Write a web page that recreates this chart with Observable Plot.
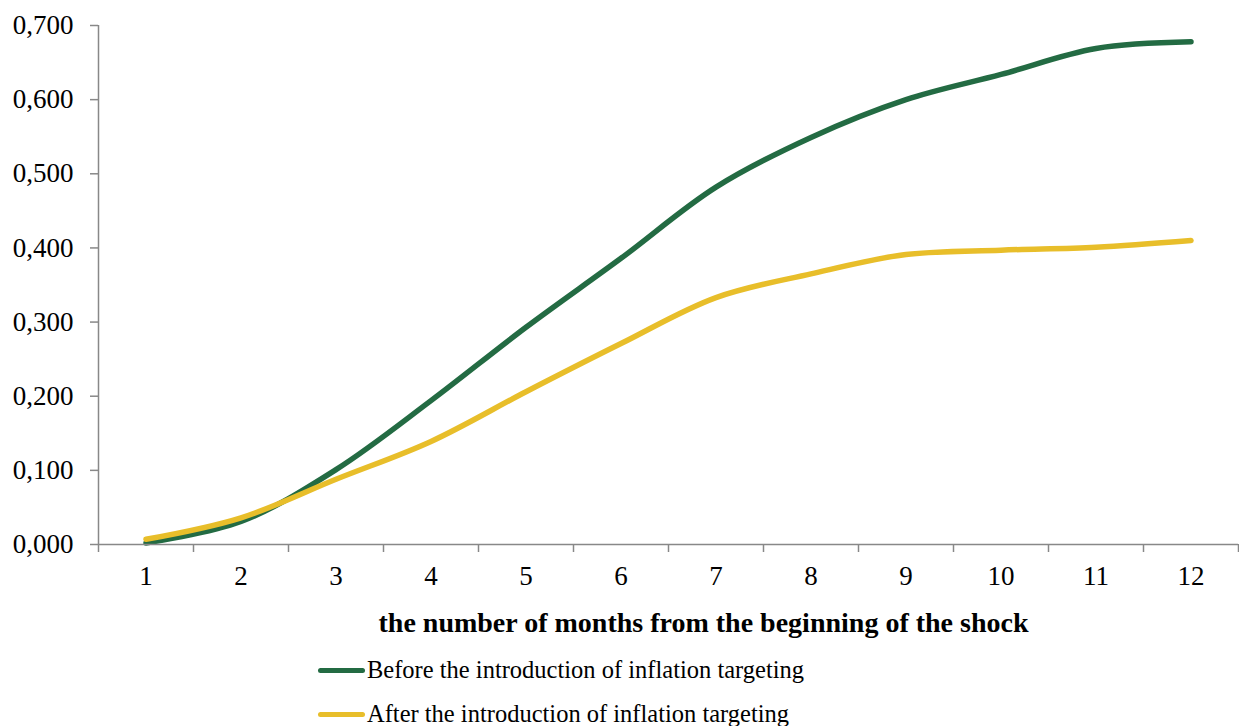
<!DOCTYPE html>
<html>
<head>
<meta charset="utf-8">
<script src="https://cdn.jsdelivr.net/npm/d3@7"></script>
<script src="https://cdn.jsdelivr.net/npm/@observablehq/plot@0.6"></script>
<style>
  body { margin: 0; background: #fff; font-family: "Liberation Serif", "Times New Roman", serif; }
  svg { display: block; }
  #legend { margin-left: 318px; margin-top: 3px; }
  .item { display: flex; align-items: center; height: 44px; font-size: 24.5px; color: #000; }
  .swatch { width: 47px; height: 5px; border-radius: 3px; margin-right: 2px; }
</style>
</head>
<body>
<div id="chart"></div>
<script>
const months = [1, 2, 3, 4, 5, 6, 7, 8, 9, 10, 11, 12];
const before = [0.002, 0.031, 0.101, 0.194, 0.293, 0.386, 0.482, 0.549, 0.600, 0.634, 0.669, 0.678];
const after  = [0.007, 0.036, 0.088, 0.139, 0.206, 0.271, 0.333, 0.365, 0.391, 0.397, 0.401, 0.410];
const seriesNames = ["Before the introduction of inflation targeting", "After the introduction of inflation targeting"];
const seriesColors = ["#236B43", "#E8BE2A"];
const yTicks = [0, 0.1, 0.2, 0.3, 0.4, 0.5, 0.6, 0.7];
const xBoundaries = [0.5, 1.5, 2.5, 3.5, 4.5, 5.5, 6.5, 7.5, 8.5, 9.5, 10.5, 11.5, 12.5];
const xTitle = "the number of months from the beginning of the shock";

const data = [];
months.forEach((m, i) => data.push({month: m, value: before[i], series: seriesNames[0]}));
months.forEach((m, i) => data.push({month: m, value: after[i], series: seriesNames[1]}));

const chart = Plot.plot({
  width: 1239,
  height: 645,
  marginTop: 25,
  marginBottom: 101,
  marginLeft: 98,
  marginRight: 1,
  style: {fontFamily: "'Liberation Serif', 'Times New Roman', serif", fontSize: "27px", color: "#000", background: "#fff"},
  x: {domain: [0.5, 12.5]},
  y: {domain: [0, 0.7]},
  color: {domain: seriesNames, range: seriesColors},
  marks: [
    Plot.line(data, {x: "month", y: "value", z: "series", stroke: "series", strokeWidth: 5.5, curve: "catmull-rom", strokeLinecap: "round"}),
    Plot.ruleY([0], {stroke: "#888", strokeWidth: 1.5}),
    Plot.ruleX([0.5], {stroke: "#888", strokeWidth: 1.5}),
    Plot.axisY({ticks: yTicks, tickSize: 8, tickPadding: 17, tickFormat: d => d.toFixed(3).replace(".", ","), stroke: "#888", strokeWidth: 1.5, label: null, fill: "#000"}),
    Plot.axisX({ticks: xBoundaries, tickSize: 8, tickFormat: () => "", stroke: "#888", strokeWidth: 1.5, label: null}),
    Plot.axisX({ticks: months, tickSize: 0, tickPadding: 21, tickFormat: d => String(d), label: null, fill: "#000"}),
    Plot.text([xTitle], {frameAnchor: "bottom", dx: 35, dy: 79, lineAnchor: "middle", fontWeight: "bold", fontSize: 28, fill: "#000"})
  ]
});
document.getElementById("chart").appendChild(chart);

const legend = document.createElement("div");
legend.id = "legend";
seriesNames.forEach((name, i) => {
  const item = document.createElement("div");
  item.className = "item";
  const sw = document.createElement("span");
  sw.className = "swatch";
  sw.style.background = seriesColors[i];
  const label = document.createElement("span");
  label.textContent = name;
  item.appendChild(sw);
  item.appendChild(label);
  legend.appendChild(item);
});
document.body.appendChild(legend);
</script>
</body>
</html>
